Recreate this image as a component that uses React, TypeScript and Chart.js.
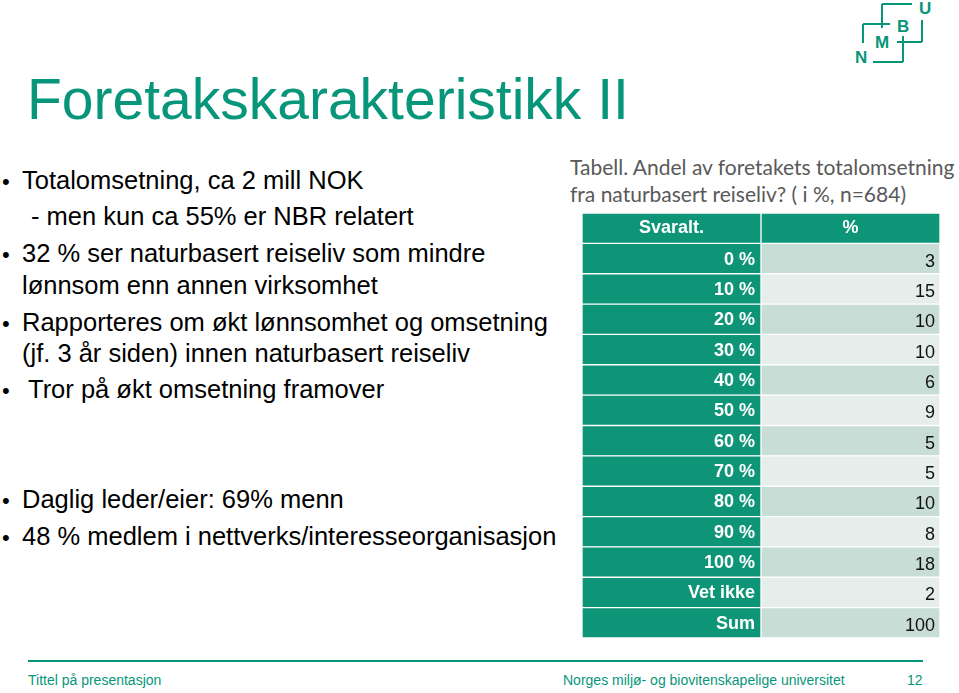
import React, { useEffect, useRef } from 'react';
import { Chart, registerables } from 'chart.js';

Chart.register(...registerables);

// ---- Data ----
const headerLabels = ['Svaralt.', '%'];
const rowLabels = ['0 %', '10 %', '20 %', '30 %', '40 %', '50 %', '60 %', '70 %', '80 %', '90 %', '100 %', 'Vet ikke', 'Sum'];
const values = [3, 15, 10, 10, 6, 9, 5, 5, 10, 8, 18, 2, 100];

const titleText = 'Foretakskarakteristikk II';
const captionLines = ['Tabell. Andel av foretakets totalomsetning', 'fra naturbasert reiseliv? ( i %, n=684)'];
const bulletTexts = [
  { text: 'Totalomsetning, ca 2 mill NOK', bullet: true, x: 22, y: 189 },
  { text: '- men kun ca 55% er NBR relatert', bullet: false, x: 31, y: 225 },
  { text: '32 % ser naturbasert reiseliv som mindre', bullet: true, x: 22, y: 262 },
  { text: 'lønnsom enn annen virksomhet', bullet: false, x: 22, y: 294 },
  { text: 'Rapporteres om økt lønnsomhet og omsetning', bullet: true, x: 22, y: 331 },
  { text: '(jf. 3 år siden) innen naturbasert reiseliv', bullet: false, x: 22, y: 362 },
  { text: 'Tror på økt omsetning framover', bullet: true, x: 28, y: 398 },
  { text: 'Daglig leder/eier: 69% menn', bullet: true, x: 22, y: 508 },
  { text: '48 % medlem i nettverks/interesseorganisasjon', bullet: true, x: 22, y: 545 },
];
const footerLeft = 'Tittel på presentasjon';
const footerMid = 'Norges miljø- og biovitenskapelige universitet';
const footerPage = '12';

// ---- Styles ----
const TEAL = '#07967a';
const CELL_DARK = '#0e9577';
const CELL_A = '#c9ddd7';
const CELL_B = '#e6eeeb';
const SANS = "'Liberation Sans', Arial, sans-serif";

const tableTextPlugin = {
  id: 'tableText',
  afterDatasetsDraw(chart: any) {
    const ctx = chart.ctx as CanvasRenderingContext2D;
    const m0 = chart.getDatasetMeta(0);
    const m1 = chart.getDatasetMeta(1);
    ctx.save();
    ctx.textBaseline = 'middle';
    m0.data.forEach((bar: any, i: number) => {
      const b0 = bar.getProps(['x', 'y', 'base'], true);
      const b1 = m1.data[i].getProps(['x', 'y', 'base'], true);
      if (i === 0) {
        ctx.fillStyle = '#ffffff';
        ctx.font = `bold 18px ${SANS}`;
        ctx.textAlign = 'center';
        ctx.fillText(headerLabels[0], (b0.x + b0.base) / 2, b0.y);
        ctx.fillText(headerLabels[1], (b1.x + b1.base) / 2, b1.y);
      } else {
        ctx.fillStyle = '#ffffff';
        ctx.font = `bold 18px ${SANS}`;
        ctx.textAlign = 'right';
        ctx.fillText(rowLabels[i - 1], b0.x - 6, b0.y + 1);
        ctx.fillStyle = '#111111';
        ctx.font = `18px ${SANS}`;
        ctx.fillText(String(values[i - 1]), b1.x - 5, b1.y + 3);
      }
    });
    ctx.restore();
  },
};

function TableChart() {
  const ref = useRef<HTMLCanvasElement>(null);
  useEffect(() => {
    const cats = [headerLabels[0], ...rowLabels];
    const chart = new Chart(ref.current!, {
      type: 'bar',
      data: {
        labels: cats,
        datasets: [
          {
            label: headerLabels[0],
            data: cats.map(() => [0, 1]) as any,
            backgroundColor: CELL_DARK,
            borderColor: '#ffffff',
            borderWidth: 1,
            borderSkipped: false,
            grouped: false,
            barPercentage: 1,
            categoryPercentage: 1,
          },
          {
            label: headerLabels[1],
            data: cats.map(() => [1, 2]) as any,
            backgroundColor: cats.map((_, i) => (i === 0 ? CELL_DARK : i % 2 === 1 ? CELL_A : CELL_B)),
            borderColor: '#ffffff',
            borderWidth: 1,
            borderSkipped: false,
            grouped: false,
            barPercentage: 1,
            categoryPercentage: 1,
          },
        ],
      },
      options: {
        indexAxis: 'y',
        responsive: false,
        animation: false,
        devicePixelRatio: 1,
        layout: { padding: 0 },
        events: [],
        scales: {
          x: { type: 'linear', min: 0, max: 2, display: false },
          y: { type: 'category', display: false, offset: true },
        },
        plugins: { legend: { display: false }, tooltip: { enabled: false } },
      },
      plugins: [tableTextPlugin],
    } as any);
    return () => chart.destroy();
  }, []);
  return (
    <canvas
      ref={ref}
      width={358}
      height={425}
      style={{ position: 'absolute', left: 582, top: 213, width: 358, height: 425 }}
    />
  );
}

function Logo() {
  const lines = [
    [882, 4, 912, 4],
    [882, 4, 882, 28],
    [863, 24, 890, 24],
    [863, 24, 863, 43],
    [922, 20, 922, 42],
    [897, 42, 922, 42],
    [903, 36, 903, 62],
    [873, 62, 903, 62],
  ];
  return (
    <g>
      {lines.map((l, i) => (
        <line key={i} x1={l[0]} y1={l[1]} x2={l[2]} y2={l[3]} stroke={TEAL} strokeWidth={2} />
      ))}
      <text x={855} y={63} fill={TEAL} fontFamily={SANS} fontWeight="bold" fontSize={17}>N</text>
      <text x={875} y={48} fill={TEAL} fontFamily={SANS} fontWeight="bold" fontSize={17}>M</text>
      <text x={897} y={32} fill={TEAL} fontFamily={SANS} fontWeight="bold" fontSize={17}>B</text>
      <text x={919} y={14} fill={TEAL} fontFamily={SANS} fontWeight="bold" fontSize={17}>U</text>
    </g>
  );
}

export default function App() {
  return (
    <div style={{ position: 'absolute', left: 0, top: 0, width: 959, height: 693, background: '#fff', overflow: 'hidden' }}>
      <svg width={959} height={693} style={{ position: 'absolute', left: 0, top: 0 }}>
        <Logo />
        <text x={27} y={119} fill={TEAL} fontFamily={SANS} fontSize={57}>{titleText}</text>
        {bulletTexts.map((b, i) => (
          <g key={i}>
            {b.bullet && (
              <text x={2} y={b.y} fill="#000" fontFamily={SANS} fontSize={22}>•</text>
            )}
            <text x={b.x} y={b.y} fill="#000" fontFamily={SANS} fontSize={25.5}>{b.text}</text>
          </g>
        ))}
        <text x={570} y={175} fill="#595959" fontFamily="Lato, 'Open Sans', sans-serif" fontSize={21}>{captionLines[0]}</text>
        <text x={570} y={202} fill="#595959" fontFamily="Lato, 'Open Sans', sans-serif" fontSize={21}>{captionLines[1]}</text>
        <line x1={28} y1={661} x2={923} y2={661} stroke={TEAL} strokeWidth={2} />
        <text x={28} y={685} fill={TEAL} fontFamily={SANS} fontSize={14}>{footerLeft}</text>
        <text x={563} y={685} fill={TEAL} fontFamily={SANS} fontSize={14}>{footerMid}</text>
        <text x={907} y={685} fill={TEAL} fontFamily={SANS} fontSize={14}>{footerPage}</text>
      </svg>
      <TableChart />
    </div>
  );
}
